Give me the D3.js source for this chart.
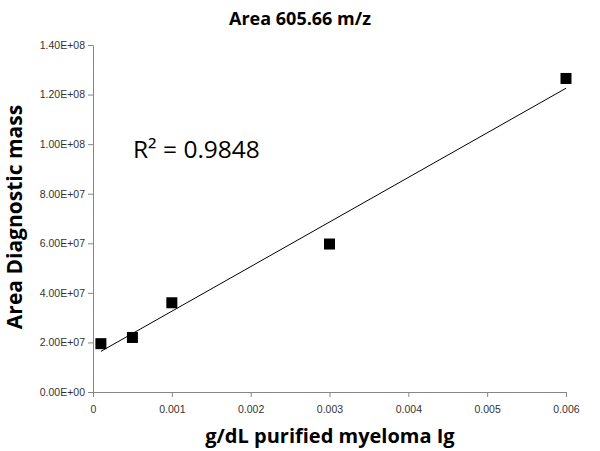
<!DOCTYPE html>
<html>
<head>
<meta charset="utf-8">
<script src="https://cdn.jsdelivr.net/npm/d3@7"></script>
<style>
  body { margin: 0; background: #fff; }
  text { font-family: "Open Sans", "Liberation Sans", sans-serif; }
</style>
</head>
<body>
<div id="chart"></div>
<script>
// chart values
var concentration = [0.0001, 0.0005, 0.001, 0.003, 0.006];
var area = [1.95e7, 2.2e7, 3.6e7, 5.97e7, 1.265e8];
var xTicks = [0, 0.001, 0.002, 0.003, 0.004, 0.005, 0.006];
var yTicks = [0, 2e7, 4e7, 6e7, 8e7, 1e8, 1.2e8, 1.4e8];
var rSquaredLabel = "R\u00B2 = 0.9848";

var svgWidth = 600;
var svgHeight = 451;
var margin = { top: 45, right: 34, bottom: 59, left: 93 };
var width = svgWidth - margin.left - margin.right;
var height = svgHeight - margin.top - margin.bottom;

var svg = d3.select("#chart")
  .append("svg")
  .attr("width", svgWidth)
  .attr("height", svgHeight);

var chartGroup = svg.append("g")
  .attr("transform", `translate(${margin.left}, ${margin.top})`);

var xScale = d3.scaleLinear().domain([0, 0.006]).range([0, width]);
var yScale = d3.scaleLinear().domain([0, 1.4e8]).range([height, 0]);

// excel style tick formats
function sci(v) {
  if (v === 0) return "0.00E+00";
  var e = Math.floor(Math.log10(v));
  var m = v / Math.pow(10, e);
  return m.toFixed(2) + "E+" + (e < 10 ? "0" + e : e);
}

var bottomAxis = d3.axisBottom(xScale).tickValues(xTicks).tickSize(5).tickSizeOuter(0)
  .tickFormat(d => d === 0 ? "0" : d3.format(".3f")(d));
var leftAxis = d3.axisLeft(yScale).tickValues(yTicks).tickSize(5).tickSizeOuter(0)
  .tickFormat(sci);

var xg = chartGroup.append("g")
  .attr("transform", `translate(0, ${height})`)
  .call(bottomAxis);
var yg = chartGroup.append("g").call(leftAxis);

[xg, yg].forEach(function(g) {
  g.select(".domain").attr("stroke", "#868686");
  g.selectAll(".tick line").attr("stroke", "#868686");
  g.selectAll(".tick text").attr("fill", "#333").style("font-size", "10.5px")
    .style("font-family", "'Liberation Sans', sans-serif");
});
xg.selectAll(".tick text").attr("dy", "1.25em");
yg.selectAll(".tick text").attr("x", -8);

// linear trendline
var mx = d3.mean(concentration), my = d3.mean(area);
var sxy = d3.sum(concentration, (d, i) => (d - mx) * (area[i] - my));
var sxx = d3.sum(concentration, d => (d - mx) * (d - mx));
var slope = sxy / sxx;
var intercept = my - slope * mx;
var xEnds = [d3.min(concentration), d3.max(concentration)];

chartGroup.append("line")
  .attr("x1", xScale(xEnds[0]))
  .attr("y1", yScale(intercept + slope * xEnds[0]))
  .attr("x2", xScale(xEnds[1]))
  .attr("y2", yScale(intercept + slope * xEnds[1]))
  .attr("stroke", "#000")
  .attr("stroke-width", 1);

// points
var s = 11;
chartGroup.selectAll("rect.pt")
  .data(concentration)
  .enter()
  .append("rect")
  .attr("class", "pt")
  .attr("x", d => xScale(d) - s / 2)
  .attr("y", (d, i) => yScale(area[i]) - s / 2)
  .attr("width", s)
  .attr("height", s)
  .attr("fill", "#000");

// labels
svg.append("text")
  .attr("x", 300).attr("y", 25)
  .attr("text-anchor", "middle")
  .style("font-size", "18px").style("font-weight", "bold")
  .text("Area 605.66 m/z");

svg.append("text")
  .attr("transform", "translate(22, 217) rotate(-90)")
  .attr("text-anchor", "middle")
  .style("font-size", "21px").style("font-weight", "bold")
  .text("Area  Diagnostic mass");

svg.append("text")
  .attr("x", 330).attr("y", 443)
  .attr("text-anchor", "middle")
  .style("font-size", "20px").style("font-weight", "bold")
  .text("g/dL purified myeloma Ig");

svg.append("text")
  .attr("x", 133).attr("y", 158)
  .style("font-size", "24.5px")
  .text(rSquaredLabel);
</script>
</body>
</html>
